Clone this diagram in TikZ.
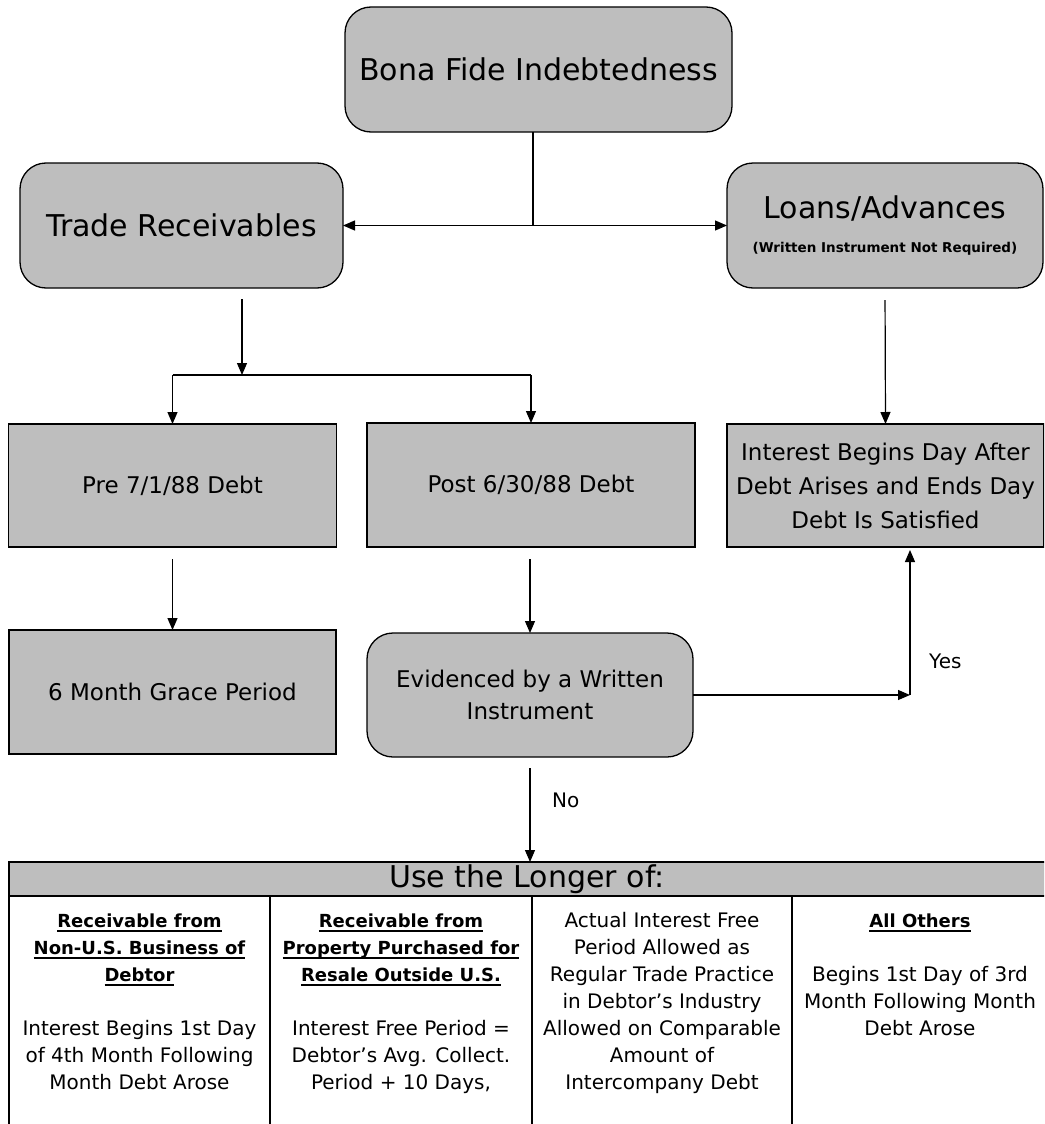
\documentclass[tikz,border=0pt]{standalone}
\usepackage{fontspec}
\setmainfont{DejaVu Sans}
\usetikzlibrary{arrows.meta}
\definecolor{boxgray}{RGB}{190,190,190}
\newcommand{\ulbf}[1]{\setbox0\hbox{\bfseries\fontsize{18}{27}\selectfont #1}\rlap{\rule[-4.5pt]{\wd0}{1.3pt}}\box0}
\tikzset{
  gbox/.style={draw=black, line width=1.3pt, fill=boxgray, inner sep=0pt, outer sep=0pt, align=center},
  rbox/.style={gbox, rounded corners=26pt},
  conn/.style={line width=1.2pt},
  arr/.style={conn, -{Triangle[length=12pt,width=10pt]}},
  big/.style={font=\fontsize{30}{36}\selectfont},
  mid/.style={font=\fontsize{23}{34}\selectfont},
  cell/.style={anchor=north, inner sep=0pt, align=center, font=\fontsize{20}{27}\selectfont},
  lbl/.style={inner sep=0pt, font=\fontsize{20}{24}\selectfont},
}
\begin{document}
\begin{tikzpicture}[x=1pt,y=-1pt]
\useasboundingbox (0,0) rectangle (1044,1124);
\clip (0,0) rectangle (1044,1124);

% top row
\node[rbox, big, minimum width=387pt, minimum height=125pt] (bf) at (538.5,69.5) {Bona Fide Indebtedness};
\node[rbox, big, minimum width=323pt, minimum height=125pt] (tr) at (181.5,225.5) {Trade Receivables};
\node[rbox, big, minimum width=316pt, minimum height=125pt] (la) at (885,225.5)
  {Loans/Advances\\[-2pt]{\bfseries\fontsize{13.5}{15}\selectfont (Written Instrument Not Required)}};

% middle rows
\node[gbox, mid, minimum width=328pt, minimum height=123pt] (pre) at (172.5,485.5) {Pre 7/1/88 Debt};
\node[gbox, mid, minimum width=328pt, minimum height=124pt] (post) at (531,485) {Post 6/30/88 Debt};
\node[gbox, mid, minimum width=317pt, minimum height=123pt] (int) at (885.5,485.5)
  {Interest Begins Day After\\Debt Arises and Ends Day\\Debt Is Satisfied};
\node[gbox, mid, minimum width=327pt, minimum height=124pt] (grace) at (172.5,692) {6 Month Grace Period};
\node[rbox, font=\fontsize{23}{32}\selectfont, minimum width=326pt, minimum height=124pt] (evid) at (530,695)
  {Evidenced by a Written\\Instrument};

% table
\node[gbox, anchor=north west, minimum width=1060pt, minimum height=34pt] (hdr) at (9,862) {};
\node[anchor=base, inner sep=0pt, font=\fontsize{30}{34}\selectfont] (hdrtext) at (527,887) {Use the Longer of:};
\draw[line width=1.3pt] (9,896) -- (9,1130);
\draw[line width=1.3pt] (270,896) -- (270,1130);
\draw[line width=1.3pt] (532,896) -- (532,1130);
\draw[line width=1.3pt] (792,896) -- (792,1130);

\node[cell] (c1) at (139.5,908.1) {\strut\ulbf{Receivable from}\\\ulbf{Non-U.S. Business of}\\\ulbf{Debtor}\\[27pt]Interest Begins 1st Day\\of 4th Month Following\\Month Debt Arose};
\node[cell] (c2) at (401,908.1) {\strut\ulbf{Receivable from}\\\ulbf{Property Purchased for}\\\ulbf{Resale Outside U.S.}\\[27pt]Interest Free Period =\\Debtor's Avg. Collect.\\Period + 10 Days,};
\node[cell] (c3) at (662,908.1) {\strut Actual Interest Free\\Period Allowed as\\Regular Trade Practice\\in Debtor's Industry\\Allowed on Comparable\\Amount of\\Intercompany Debt};
\node[cell] (c4) at (920,908.1) {\strut\ulbf{All Others}\\[27pt]Begins 1st Day of 3rd\\Month Following Month\\Debt Arose};

% connectors
\coordinate (j1) at (533,225.5);
\draw[conn] (bf.south -| j1) -- (j1);
\draw[arr] (j1) -- (tr.east);
\draw[arr] (j1) -- (la.west);

\coordinate (j2) at (242,375);
\draw[arr, shorten <=11pt] (tr.south -| j2) -- (j2);
\draw[conn] (pre.north |- j2) -- (post.north |- j2);
\draw[arr] (pre.north |- j2) -- (pre.north);
\draw[arr] (post.north |- j2) -- (post.north);

\draw[arr, shorten <=12pt] (la.south) -- (int.north);
\draw[arr, shorten <=12pt] (pre.south) -- (grace.north);
\draw[arr, shorten <=12pt] (post.south -| evid.north) -- (evid.north);

\coordinate (j3) at (910,695);
\draw[arr] (evid.east) -- (j3);
\draw[arr, shorten >=3pt] (j3) -- (int.south -| j3);
\node[lbl, anchor=base west] (yes) at (929,668) {Yes};

\draw[arr, shorten <=11pt] (evid.south) -- (evid.south |- hdr.north);
\node[lbl, anchor=base west] (no) at (552,807) {No};
\end{tikzpicture}
\end{document}
